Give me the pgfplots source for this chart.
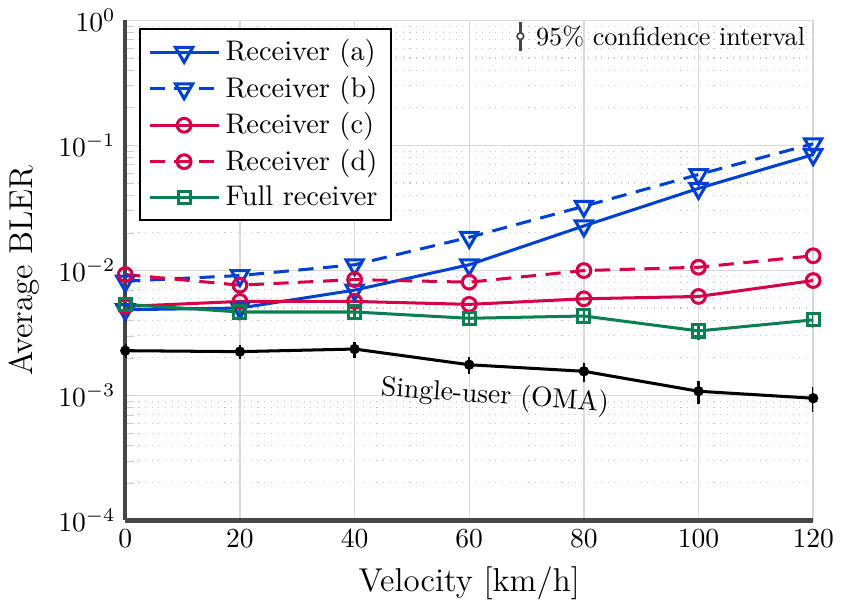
\documentclass[border=0pt]{standalone}
\usepackage{pgfplots}
\pgfplotsset{compat=1.18}
\definecolor{cblue}{RGB}{0,64,210}
\definecolor{cred}{RGB}{214,0,74}
\definecolor{cgreen}{RGB}{10,128,80}
\definecolor{axgray}{RGB}{70,70,70}
\begin{document}
\begin{tikzpicture}
\begin{axis}[
  scale only axis, width=249.8pt, height=181.6pt,
  xmin=0, xmax=120, ymin=1e-4, ymax=1, ymode=log,
  xtick={0,20,...,120},
  ytick={1e-4,1e-3,1e-2,1e-1,1},
  axis x line*=bottom, axis y line*=left,
  axis line style={line width=1.5pt, axgray, -},
  grid=both,
  major grid style={gray!30, line width=0.5pt},
  minor grid style={gray!45, dotted},
  minor x tick num=0,
  tick style={gray!40},
  major tick length=0pt, minor tick length=3pt,
  xlabel={Velocity [km/h]}, ylabel={Average BLER},
  label style={font=\large},
  every axis plot/.append style={line width=1.1pt},
  legend cell align=left,
  legend style={at={(0.02,0.985)}, anchor=north west, draw=black, line width=0.6pt, fill=white, font=\fontsize{10.3}{12}\selectfont},
  legend image code/.code={\draw[mark repeat=2, mark phase=2] plot coordinates {(0cm,0cm) (0.44cm,0cm) (0.88cm,0cm)};},
  error bars/error bar style={line width=0.9pt},
]
\addplot[cblue, mark=triangle, mark options={rotate=180, fill=white, solid}, mark size=3.6pt]
  coordinates {(0,4.85e-3) (20,5.0e-3) (40,6.96e-3) (60,1.11e-2) (80,2.27e-2) (100,4.53e-2) (120,8.44e-2)};
\addlegendentry{Receiver (a)}
\addplot[cblue, dash pattern=on 5.5pt off 3.5pt, mark=triangle, mark options={rotate=180, fill=white, solid}, mark size=3.6pt]
  coordinates {(0,8.2e-3) (20,9.1e-3) (40,1.11e-2) (60,1.84e-2) (80,3.26e-2) (100,5.85e-2) (120,1.03e-1)};
\addlegendentry{Receiver (b)}
\addplot[cred, mark=o, mark options={fill=white, solid}, mark size=2.5pt]
  coordinates {(0,5.15e-3) (20,5.65e-3) (40,5.65e-3) (60,5.35e-3) (80,5.93e-3) (100,6.19e-3) (120,8.3e-3)};
\addlegendentry{Receiver (c)}
\addplot[cred, dash pattern=on 5.5pt off 3.5pt, mark=o, mark options={fill=white, solid}, mark size=2.5pt]
  coordinates {(0,9.27e-3) (20,7.62e-3) (40,8.45e-3) (60,8.05e-3) (80,9.97e-3) (100,1.06e-2) (120,1.31e-2)};
\addlegendentry{Receiver (d)}
\addplot[cgreen, mark=square, mark options={fill=white, solid}, mark size=2.2pt,
  error bars/.cd, y dir=both, y explicit, error mark=none]
  coordinates {(0,5.35e-3) +- (0,4e-4) (20,4.65e-3) +- (0,4e-4) (40,4.65e-3) +- (0,4e-4) (60,4.14e-3) +- (0,4e-4) (80,4.32e-3) +- (0,4.5e-4) (100,3.28e-3) +- (0,5e-4) (120,4.02e-3) +- (0,5.5e-4)};
\addlegendentry{Full receiver}
\addplot[black, mark=*, mark size=1.3pt,
  error bars/.cd, y dir=both, y explicit, error mark=none]
  coordinates {(0,2.28e-3) +- (0,3e-4) (20,2.24e-3) +- (0,3e-4) (40,2.35e-3) +- (0,3.4e-4) (60,1.76e-3) +- (0,2.7e-4) (80,1.56e-3) +- (0,2.7e-4) (100,1.08e-3) +- (0,2.2e-4) (120,9.5e-4) +- (0,2.1e-4)};
\node[rotate=-4, font=\normalsize] at (axis cs:64.5,0.98e-3) {Single-user (OMA)};
\node[anchor=north east, font=\fontsize{9.5}{11}\selectfont, inner sep=1pt] (ci) at (rel axis cs:0.993,0.996) {95\% confidence interval};
\draw[axgray, line width=0.8pt] ([xshift=-4.5pt,yshift=1.3pt]ci.west) -- ([xshift=-4.5pt,yshift=5.2pt]ci.west);
\draw[axgray, line width=0.8pt] ([xshift=-4.5pt,yshift=-1.3pt]ci.west) -- ([xshift=-4.5pt,yshift=-5.2pt]ci.west);
\draw[axgray, line width=0.6pt] ([xshift=-4.5pt]ci.west) circle (1.2pt);
\end{axis}
\end{tikzpicture}
\end{document}
